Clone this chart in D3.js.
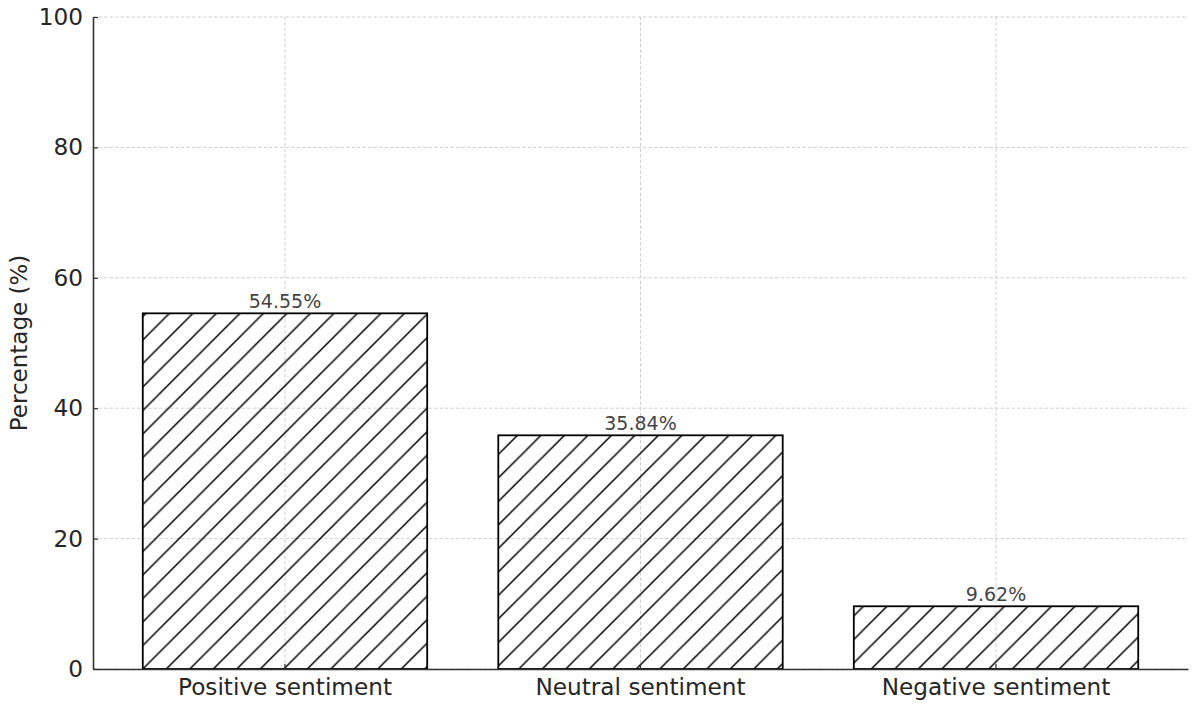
<!DOCTYPE html>
<html>
<head>
<meta charset="utf-8">
<script src="https://cdn.jsdelivr.net/npm/d3@7"></script>
<style>
  body { margin: 0; background: #fff; }
  text { font-family: "DejaVu Sans", sans-serif; }
</style>
</head>
<body>
<div id="here"></div>
<script>
// sentiment share chart

const categories = ["Positive sentiment", "Neutral sentiment", "Negative sentiment"];
const percentages = [54.55, 35.84, 9.62];
const yTicks = [0, 20, 40, 60, 80, 100];
const yLabel = "Percentage (%)";

const width = 1200;
const height = 711;
const margin = { top: 17, right: 12, bottom: 42, left: 93 };

const svg = d3
    .select("#here")
    .append("svg")
    .attr("width", width)
    .attr("height", height);

// scales
const xScale = d3
    .scaleBand()
    .domain(categories)
    .range([margin.left, width - margin.right])
    .paddingInner(0.2)
    .paddingOuter(0.14);

const yScale = d3
    .scaleLinear()
    .domain([0, 100])
    .range([height - margin.bottom, margin.top]);

// hatch pattern "//"
const s = 23.5;
const pattern = svg.append("defs")
    .append("pattern")
    .attr("id", "hatch")
    .attr("patternUnits", "userSpaceOnUse")
    .attr("x", xScale(categories[0]))
    .attr("y", yScale(0))
    .attr("width", s)
    .attr("height", s);

pattern.append("path")
    .attr("d", `M0,${s} L${s},0 M-2,2 L2,-2 M${s - 2},${s + 2} L${s + 2},${s - 2}`)
    .attr("stroke", "#000")
    .attr("stroke-width", 1.5)
    .attr("fill", "none");

// grid
const grid = svg.append("g");

grid.selectAll(".hgrid")
    .data(yTicks)
    .enter()
    .append("line")
    .attr("x1", margin.left)
    .attr("x2", width - margin.right)
    .attr("y1", d => yScale(d))
    .attr("y2", d => yScale(d))
    .attr("stroke", "#d0d0d0")
    .attr("stroke-width", 1)
    .attr("stroke-dasharray", "3.5,2");

grid.selectAll(".vgrid")
    .data(categories)
    .enter()
    .append("line")
    .attr("x1", d => xScale(d) + xScale.bandwidth() / 2)
    .attr("x2", d => xScale(d) + xScale.bandwidth() / 2)
    .attr("y1", yScale(0))
    .attr("y2", yScale(100))
    .attr("stroke", "#d0d0d0")
    .attr("stroke-width", 1)
    .attr("stroke-dasharray", "3.5,2");

// bars
svg.selectAll(".bar")
    .data(percentages)
    .enter()
    .append("rect")
    .attr("class", "bar")
    .attr("x", (d, i) => xScale(categories[i]))
    .attr("y", d => yScale(d))
    .attr("width", xScale.bandwidth())
    .attr("height", d => yScale(0) - yScale(d))
    .attr("fill", "url(#hatch)")
    .attr("stroke", "#000")
    .attr("stroke-width", 1.8);

// value labels
svg.selectAll(".val")
    .data(percentages)
    .enter()
    .append("text")
    .attr("x", (d, i) => xScale(categories[i]) + xScale.bandwidth() / 2)
    .attr("y", d => yScale(d) - 5)
    .attr("text-anchor", "middle")
    .attr("font-size", 19)
    .attr("fill", "#444")
    .text(d => d.toFixed(2) + "%");

// axes
const xAxis = svg
    .append("g")
    .attr("transform", `translate(0, ${yScale(0)})`)
    .call(d3.axisBottom(xScale).tickSizeInner(-5).tickSizeOuter(0).tickPadding(10));

const yAxis = svg
    .append("g")
    .attr("transform", `translate(${margin.left}, 0)`)
    .call(d3.axisLeft(yScale).tickValues(yTicks).tickSizeInner(-5).tickSizeOuter(0).tickPadding(10));

[xAxis, yAxis].forEach(function(ax){
    ax.select(".domain").attr("stroke", "#333").attr("stroke-width", 1.6);
    ax.selectAll(".tick line").attr("stroke", "#333").attr("stroke-width", 1.2);
    ax.selectAll(".tick text")
        .attr("font-family", "DejaVu Sans, sans-serif")
        .attr("font-size", 23.2)
        .attr("fill", "#262626");
});

// axis label
svg.append("text")
    .attr("x", -(yScale(0) + yScale(100)) / 2)
    .attr("y", 27)
    .attr("transform", "rotate(-90)")
    .attr("text-anchor", "middle")
    .attr("font-size", 23)
    .attr("fill", "#262626")
    .text(yLabel);
</script>
</body>
</html>
